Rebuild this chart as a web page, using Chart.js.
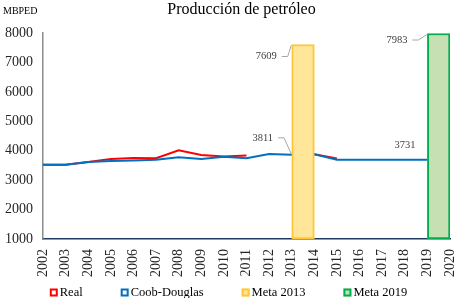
<!DOCTYPE html>
<html>
<head>
<meta charset="utf-8">
<script src="https://cdn.jsdelivr.net/npm/chart.js@4.4.0/dist/chart.umd.min.js"></script>
<style>
  html, body { margin: 0; padding: 0; background: #fff; }
  #wrap { width: 457px; height: 298px; }
</style>
</head>
<body>
<div id="wrap"><canvas id="petroleoChart" width="457" height="298"></canvas></div>
<script>
// Datos (MBPED)
const anios = [2002, 2003, 2004, 2005, 2006, 2007, 2008, 2009, 2010, 2011,
               2012, 2013, 2014, 2015, 2016, 2017, 2018, 2019, 2020];
const real = [3520, 3520, 3620, 3720, 3755, 3745, 4015, 3857, 3800, 3835,
              null, null, 3880, 3740, null, null, null, null, null];
const coobDouglas = [3520, 3520, 3620, 3650, 3670, 3690, 3780, 3720, 3795, 3745,
                     3890, 3860, 3880, 3690, 3690, 3690, 3690, 3690, null];
const metaAnios = [2013, 2019];
const metaValores = [7609, 7983];
const etiquetasAnios = [2013, 2019];
const etiquetasTextos = ['3811', '3731'];
const yTicks = [1000, 2000, 3000, 4000, 5000, 6000, 7000, 8000];

const serif = '"Liberation Serif", "Times New Roman", serif';
const puntos = (vals) => anios.map((a, i) => ({ x: a, y: vals[i] }));

// títulos, etiquetas de datos y leyenda
const decoracion = {
    id: 'decoracion',
    afterDraw(chart) {
        const { ctx, chartArea, scales: { x, y } } = chart;
        ctx.save();

        // Título
        ctx.fillStyle = '#000';
        ctx.textAlign = 'center';
        ctx.textBaseline = 'alphabetic';
        ctx.font = '16px ' + serif;
        ctx.fillText('Producción de petróleo', (chartArea.left + chartArea.right) / 2 - 5, 13.5);

        // Unidad
        ctx.textAlign = 'left';
        ctx.font = '10px ' + serif;
        ctx.fillText('MBPED', 3, 14);

        // Etiquetas de datos
        const etiquetas = [
            { ax: metaAnios[0], ay: metaValores[0], txt: String(metaValores[0]), dx: -25.5, dy: 12, guia: true },
            { ax: metaAnios[1], ay: metaValores[1], txt: String(metaValores[1]), dx: -30.5, dy: 6.5, guia: true },
            { ax: etiquetasAnios[0], ay: coobDouglas[anios.indexOf(etiquetasAnios[0])], txt: etiquetasTextos[0], dx: -29, dy: -17, guia: true },
            { ax: etiquetasAnios[1], ay: coobDouglas[anios.indexOf(etiquetasAnios[1])], txt: etiquetasTextos[1], dx: -22.5, dy: -15, guia: false }
        ];
        ctx.font = '10.5px ' + serif;
        ctx.textAlign = 'center';
        ctx.textBaseline = 'middle';
        etiquetas.forEach(e => {
            const px = x.getPixelForValue(e.ax);
            const py = y.getPixelForValue(e.ay);
            const tx = px + e.dx;
            const ty = py + e.dy;
            ctx.fillStyle = '#404040';
            ctx.fillText(e.txt, tx, ty);
            if (e.guia) {
                const w = ctx.measureText(e.txt).width;
                const x0 = tx + w / 2 + 5;
                ctx.strokeStyle = '#A6A6A6';
                ctx.lineWidth = 1;
                ctx.beginPath();
                ctx.moveTo(x0, ty);
                ctx.lineTo(x0 + 6, ty);
                ctx.lineTo(px - 0.5, py + (e.dy > 0 ? 1 : -1));
                ctx.stroke();
            }
        });

        // Leyenda
        ctx.font = '12.5px ' + serif;
        ctx.textAlign = 'left';
        ctx.textBaseline = 'alphabetic';
        const caja = 8, sep = 2, hueco = 38;
        const items = chart.data.datasets.map(ds => ({
            ds, w: caja + sep + ctx.measureText(ds.label).width
        }));
        const total = items.reduce((s, it) => s + it.w, 0) + hueco * (items.length - 1);
        let cx = (chart.width - total) / 2;
        const by = 288.5;
        items.forEach(it => {
            ctx.fillStyle = it.ds.leyendaFondo;
            ctx.fillRect(cx, by, caja, caja);
            ctx.strokeStyle = it.ds.borderColor;
            ctx.lineWidth = 2;
            ctx.strokeRect(cx + 1, by + 1, caja - 2, caja - 2);
            ctx.fillStyle = '#000';
            ctx.fillText(it.ds.label, cx + caja + sep, by + 7.5);
            cx += it.w + hueco;
        });

        ctx.restore();
    }
};

const ctx = document.getElementById('petroleoChart').getContext('2d');
new Chart(ctx, {
    type: 'line',
    data: {
        datasets: [
            {
                label: 'Real',
                data: puntos(real),
                borderColor: '#FF0000',
                leyendaFondo: '#FFFFFF',
                borderWidth: 2,
                pointRadius: 0,
                tension: 0,
                spanGaps: false,
                order: 3
            },
            {
                label: 'Coob-Douglas',
                data: puntos(coobDouglas),
                borderColor: '#0070C0',
                leyendaFondo: '#FFFFFF',
                borderWidth: 2,
                pointRadius: 0,
                tension: 0,
                order: 2
            },
            {
                label: 'Meta 2013',
                type: 'bar',
                data: [{ x: metaAnios[0] + 0.5, y: metaValores[0] }],
                backgroundColor: '#FFE699',
                leyendaFondo: '#FFE699',
                borderColor: '#FFC736',
                borderWidth: 2,
                borderSkipped: false,
                grouped: false,
                barPercentage: 1,
                categoryPercentage: 1,
                base: yTicks[0],
                order: 1
            },
            {
                label: 'Meta 2019',
                type: 'bar',
                data: [{ x: metaAnios[1] + 0.5, y: metaValores[1] }],
                backgroundColor: '#C6E0B4',
                leyendaFondo: '#C6E0B4',
                borderColor: '#00B050',
                borderWidth: 2,
                borderSkipped: false,
                grouped: false,
                barPercentage: 1,
                categoryPercentage: 1,
                base: yTicks[0],
                order: 1
            }
        ]
    },
    options: {
        responsive: false,
        animation: false,
        layout: { padding: { top: 33, right: 7, bottom: 21, left: 0 } },
        plugins: {
            legend: { display: false },
            title: { display: false },
            tooltip: { enabled: false }
        },
        scales: {
            x: {
                type: 'linear',
                min: anios[0],
                max: anios[anios.length - 1],
                offset: false,
                grid: { display: false, drawTicks: false },
                border: { color: '#203864', width: 1.5 },
                ticks: {
                    stepSize: 1,
                    autoSkip: false,
                    minRotation: 90,
                    maxRotation: 90,
                    padding: 10,
                    color: '#262626',
                    font: { family: serif, size: 14 },
                    callback: (v) => String(Math.round(v))
                },
                afterFit: (s) => { s.height = 38; s.paddingRight = 0; s.paddingLeft = 0; }
            },
            y: {
                min: yTicks[0],
                max: yTicks[yTicks.length - 1],
                grid: { display: false, drawTicks: false },
                border: { color: '#8C8C8C', width: 1.5 },
                ticks: {
                    stepSize: yTicks[1] - yTicks[0],
                    padding: 10,
                    color: '#262626',
                    font: { family: serif, size: 14 },
                    callback: (v) => String(v)
                },
                afterFit: (s) => { s.width = 43; }
            }
        }
    },
    plugins: [decoracion]
});
</script>
</body>
</html>
